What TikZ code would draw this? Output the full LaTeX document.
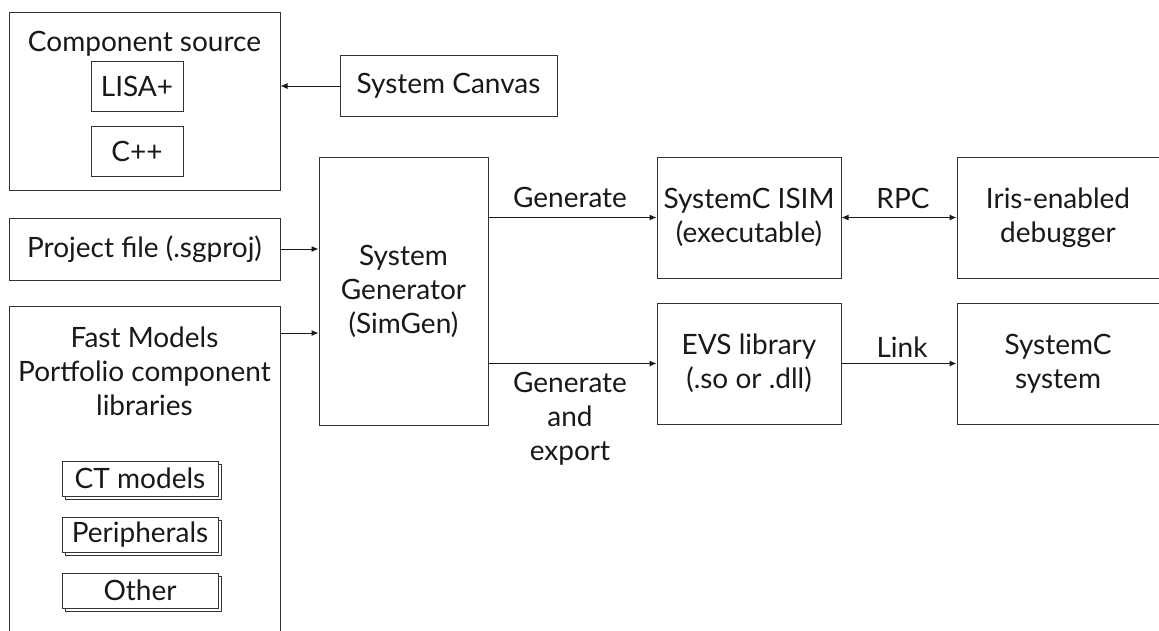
\documentclass[tikz,border=0pt]{standalone}
\usepackage{fontspec}
\setmainfont{Lato}
\usetikzlibrary{arrows.meta,shadows,calc}
\begin{document}
\begin{tikzpicture}[x=1pt,y=-1pt,
  every node/.style={font=\fontsize{28}{34}\selectfont, text=black!90},
  box/.style={draw=black!80, line width=1pt, fill=white, inner sep=0pt, align=center},
  stackbox/.style={box, copy shadow={shadow xshift=3.5pt, shadow yshift=-3.5pt, draw=black!80, fill=white, line width=1pt}},
  lbl/.style={inner sep=0pt, align=center},
  arr/.style={line width=1pt, draw=black!90, -{Latex[length=7pt,width=6pt]}},
  darr/.style={line width=1pt, draw=black!90, {Latex[length=7pt,width=6pt]}-{Latex[length=7pt,width=6pt]}}]
\useasboundingbox (0,0) rectangle (1159,630);
\clip (0,0) rectangle (1159,630);
\fill[white] (0,0) rectangle (1159,630);

% Component source group
\node[box, minimum width=271pt, minimum height=178pt] (comp) at (144.5,101) {};
\node[lbl] (compt) at (144.5,51) [anchor=base] {Component source};
\node[box, minimum width=92pt, minimum height=50pt] (lisa) at (137,86) {LISA+};
\node[box, minimum width=92pt, minimum height=50pt] (cpp) at (137,151) {C++};

\node[box, minimum width=217pt, minimum height=61pt] (canvas) at (448.5,86) {System Canvas};

\node[box, minimum width=271pt, minimum height=62pt] (proj) at (144.5,249) {Project file (.sgproj)};

% Fast models (extends past bottom)
\node[box, minimum width=271pt, minimum height=344pt, anchor=north] (fast) at (144.5,306) {};
\node[lbl, anchor=north] (fastt) at (144.5,327) {Fast Models\\Portfolio component\\libraries};
\node[stackbox, minimum width=156pt, minimum height=35pt] (ct) at (140,478.5) {CT models};
\node[stackbox, minimum width=156pt, minimum height=35pt] (per) at (140,534.5) {Peripherals};
\node[stackbox, minimum width=156pt, minimum height=35pt] (oth) at (140,590.5) {Other};

\node[box, minimum width=169pt, minimum height=268pt] (simgen) at (403.5,291) {System\\Generator\\(SimGen)};

\node[box, minimum width=184pt, minimum height=121pt] (isim) at (749,217.5) {SystemC ISIM\\(executable)};
\node[box, minimum width=184pt, minimum height=121pt] (evs) at (749,363.5) {EVS library\\(.so or .dll)};
\node[box, minimum width=214pt, minimum height=121pt, anchor=west] (iris) at (956.5,217.5) {\hspace*{-12pt}Iris-enabled\\\hspace*{-12pt}debugger};
\node[box, minimum width=214pt, minimum height=121pt, anchor=west] (scsys) at (956.5,363.5) {\hspace*{-12pt}SystemC\\\hspace*{-12pt}system};

% connectors
\draw[arr] (canvas.west) -- (canvas.west -| comp.east);
\draw[arr] (proj.east) -- (proj.east -| simgen.west);
\coordinate (fa) at ($(fast.north east)+(0,27)$);
\draw[arr] (fa) -- (fa -| simgen.west);
\draw[arr] (isim.west -| simgen.east) -- (isim.west);
\draw[arr] (evs.west -| simgen.east) -- (evs.west);
\draw[darr] (isim.east) -- (isim.east -| iris.west);
\draw[arr] (evs.east) -- (evs.east -| scsys.west);

% labels
\node[lbl, anchor=base] (lgen) at (570,207) {Generate};
\node[lbl, anchor=north] (lgenx) at (570,372) {Generate\\and\\export};
\node[lbl, anchor=base] (lrpc) at (903,208) {RPC};
\node[lbl, anchor=base] (llink) at (902,357) {Link};
\end{tikzpicture}
\end{document}
